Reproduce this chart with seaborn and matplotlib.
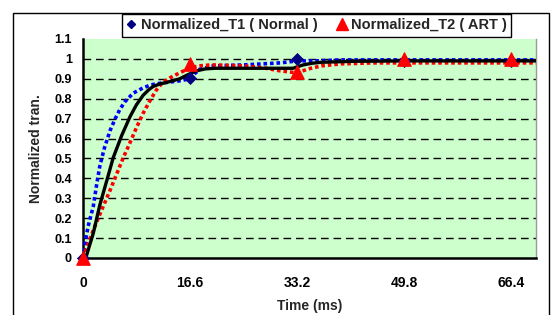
import matplotlib
matplotlib.use("Agg")
import matplotlib.pyplot as plt
import seaborn as sns
import pandas as pd
from matplotlib.lines import Line2D
from matplotlib.patches import Rectangle

# ---------------- data ----------------
t_marker = [0, 16.6, 33.2, 49.8, 66.4]
t1_vals = [0, 0.905, 1.00, 0.99, 0.99]
t2_vals = [0, 0.975, 0.935, 1.00, 1.00]

blue_t = [0, 0.4, 0.8, 1.6, 2.1, 2.6, 3.3, 4.2, 5.0, 5.7, 6.5, 7.8, 9.35, 10.6, 12.0,
          13.5, 15, 16.6, 17.3, 18.1, 20.2, 25, 30.6, 33.2, 36, 40, 50, 60, 70.3]
blue_v = [0, 0.09, 0.16, 0.26, 0.365, 0.46, 0.55, 0.64, 0.70, 0.745, 0.785, 0.828,
          0.855, 0.870, 0.878, 0.884, 0.89, 0.90, 0.925, 0.948, 0.965, 0.97, 0.98,
          0.99, 0.99, 0.995, 0.995, 0.995, 0.995]

red_t = [0, 0.3, 1.6, 2.75, 4.2, 5.2, 6.2, 7.3, 8.3, 9.3, 10.3, 11.3, 12.3, 13.5,
         15, 16.6, 18, 20, 25, 28, 30.6, 33.2, 35, 37, 40, 45, 50, 60, 70.3]
red_v = [0, 0.025, 0.14, 0.23, 0.34, 0.42, 0.50, 0.58, 0.655, 0.725, 0.785, 0.84,
         0.88, 0.905, 0.93, 0.955, 0.965, 0.97, 0.965, 0.955, 0.94, 0.93, 0.95,
         0.965, 0.975, 0.98, 0.98, 0.98, 0.98]

black_t = [0, 0.57, 1.6, 2.6, 3.7, 4.7, 6.0, 7.3, 8.3, 9.35, 10.2, 10.9, 12.0, 13,
           15, 16.1, 17.6, 19.0, 20.5, 25, 32.6, 33.4, 34.2, 35.5, 36.9, 42, 50,
           60, 70.3]
black_v = [0, 0.015, 0.125, 0.265, 0.39, 0.505, 0.615, 0.71, 0.77, 0.818, 0.845,
           0.862, 0.875, 0.882, 0.90, 0.918, 0.94, 0.95, 0.953, 0.953, 0.953, 0.962,
           0.97, 0.978, 0.983, 0.988, 0.99, 0.99, 0.99]

x_ticks = [0, 16.6, 33.2, 49.8, 66.4]
x_ticklabels = ["0", "16.6", "33.2", "49.8", "66.4"]
y_ticks = [0, 0.1, 0.2, 0.3, 0.4, 0.5, 0.6, 0.7, 0.8, 0.9, 1.0, 1.1]
y_ticklabels = ["0", "0.1", "0.2", "0.3", "0.4", "0.5", "0.6", "0.7", "0.8", "0.9", "1", "1.1"]

label_t1 = "Normalized_T1 ( Normal )"
label_t2 = "Normalized_T2 ( ART )"

# ---------------- style ----------------
sns.set_style("white")
plt.rcParams["font.family"] = ["Liberation Sans", "DejaVu Sans"]
plt.rcParams["font.weight"] = "bold"

W, H = 551, 315
fig = plt.figure(figsize=(W / 100, H / 100), dpi=100)
ax = fig.add_axes([83 / W, 1 - 258 / H, (536 - 83) / W, (258 - 39) / H])
ax.set_facecolor("#CCFFCC")

# grid lines
for yv in y_ticks[1:-1]:
    ax.axhline(yv, color="black", lw=1.0, linestyle=(0, (5.5, 3.5)), zorder=1)

blue_df = pd.DataFrame({"t": blue_t, "v": blue_v})
red_df = pd.DataFrame({"t": red_t, "v": red_v})
black_df = pd.DataFrame({"t": black_t, "v": black_v})

sns.lineplot(data=blue_df, x="t", y="v", ax=ax, sort=False, estimator=None,
             color="#0000FF", lw=2.6, linestyle=(0, (1.0, 0.8)), zorder=3)
sns.lineplot(data=red_df, x="t", y="v", ax=ax, sort=False, estimator=None,
             color="#FF0000", lw=2.6, linestyle=(0, (1.0, 0.8)), zorder=3)
sns.lineplot(data=black_df, x="t", y="v", ax=ax, sort=False, estimator=None,
             color="black", lw=2.4, zorder=4)

m1 = pd.DataFrame({"t": t_marker, "v": t1_vals})
m2 = pd.DataFrame({"t": t_marker, "v": t2_vals})
sns.scatterplot(data=m1, x="t", y="v", ax=ax, marker="D", color="#000080",
                s=38, edgecolor="#000080", zorder=5, clip_on=False)
sns.scatterplot(data=m2, x="t", y="v", ax=ax, marker="^", color="#FF0000",
                s=95, edgecolor="#FF0000", zorder=6, clip_on=False)

ax.set_xlim(0, 70.3)
ax.set_ylim(0, 1.1)
ax.set_xticks(x_ticks)
ax.set_xticklabels(x_ticklabels, fontsize=10, fontweight="bold")
ax.set_yticks(y_ticks)
ax.set_yticklabels(y_ticklabels, fontsize=9, fontweight="bold")
ax.tick_params(axis="x", direction="in", length=5, width=1.5, pad=13, colors="black")
ax.tick_params(axis="y", direction="out", length=3, width=1.2, pad=5, colors="black")

ax.set_xlabel("Time (ms)", fontsize=10, fontweight="bold", labelpad=6.5)
ax.set_ylabel("Normalized tran.", fontsize=10, fontweight="bold", labelpad=8)

for s in ["left", "bottom"]:
    ax.spines[s].set_color("black")
    ax.spines[s].set_linewidth(1.8)
ax.spines["top"].set_visible(False)
ax.spines["right"].set_color("#999999")
ax.spines["right"].set_linewidth(1.0)

# outer chart border
fig.patches.append(Rectangle((13 / W, -0.05), (549 - 13) / W, 1.05 - 13 / H,
                             transform=fig.transFigure, fill=False,
                             edgecolor="black", lw=1.0, zorder=0))

handles = [Line2D([], [], marker="D", color="#000080", linestyle="", markersize=4.5),
           Line2D([], [], marker="^", color="#FF0000", linestyle="", markersize=9)]
leg = fig.legend(handles, [label_t1, label_t2], ncol=2, loc="center",
                 bbox_to_anchor=(316.5 / W, 1 - 25.5 / H), frameon=True,
                 fancybox=False, framealpha=1, edgecolor="black",
                 prop={"size": 10.5, "weight": "bold"}, handlelength=0.7,
                 handletextpad=0.3, columnspacing=1.3, borderpad=0.3,
                 borderaxespad=0)
leg.get_frame().set_linewidth(1.0)
leg.set_zorder(10)

fig.savefig("out.png", dpi=100, facecolor="white")
